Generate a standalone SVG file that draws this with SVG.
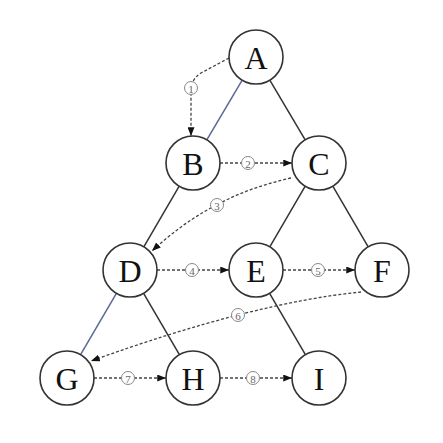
<svg xmlns="http://www.w3.org/2000/svg" width="443" height="443" viewBox="0 0 443 443">
<defs>
<marker id="ah" viewBox="0 0 10 8" refX="10" refY="4" markerWidth="9" markerHeight="7" markerUnits="userSpaceOnUse" orient="auto">
<path d="M0,0 L10,4 L0,8 Z" fill="#111"/>
</marker>
<style>
.node circle{fill:#fff;stroke:#333;stroke-width:1.6}
.node text{font-family:"Liberation Serif",serif;font-size:32px;fill:#111;text-anchor:middle;dominant-baseline:central}
.edge{stroke:#333;stroke-width:1.5;fill:none}
.blue{stroke:#5a6896}
.trav{stroke:#444;stroke-width:1.3;stroke-dasharray:3 2;fill:none;marker-end:url(#ah)}
.lbl circle{fill:#fff;stroke:#888;stroke-width:1}
.lbl text{font-family:"Liberation Serif",serif;font-size:11px;fill:#666;text-anchor:middle;dominant-baseline:central}
</style>
</defs>
<rect width="443" height="443" fill="#fff"/>
<g id="edges">
<line class="edge blue" x1="242.2" y1="80.2" x2="206.8" y2="139.8"/>
<line class="edge" x1="269.8" y1="80.2" x2="305.2" y2="139.8"/>
<line class="edge" x1="179.2" y1="186.2" x2="143.8" y2="246.8"/>
<line class="edge" x1="305.2" y1="186.2" x2="269.8" y2="246.8"/>
<line class="edge" x1="332.8" y1="186.2" x2="368.2" y2="246.8"/>
<line class="edge blue" x1="116.4" y1="293.3" x2="80.6" y2="354.7"/>
<line class="edge" x1="143.6" y1="293.3" x2="179.4" y2="354.7"/>
<line class="edge" x1="269.6" y1="293.3" x2="305.4" y2="354.7"/>
</g>
<g id="traversal">
<path class="trav" d="M229,58 L201,73 Q191,79 191,92 L191,136"/>
<line class="trav" x1="220" y1="163" x2="292" y2="163"/>
<path class="trav" d="M291,178 Q212,195 152,251"/>
<line class="trav" x1="157" y1="270" x2="229" y2="270"/>
<line class="trav" x1="283" y1="270" x2="355" y2="270"/>
<path class="trav" d="M361,292 Q252,303 91,361"/>
<line class="trav" x1="94" y1="378" x2="166" y2="378"/>
<line class="trav" x1="220" y1="378" x2="292" y2="378"/>
</g>
<g id="labels">
<g class="lbl"><circle cx="191" cy="88" r="6.5"/><text x="191" y="88.5">1</text></g>
<g class="lbl"><circle cx="248" cy="163" r="6.5"/><text x="248" y="163.5">2</text></g>
<g class="lbl"><circle cx="217" cy="205" r="6.5"/><text x="217" y="205.5">3</text></g>
<g class="lbl"><circle cx="192" cy="270" r="6.5"/><text x="192" y="270.5">4</text></g>
<g class="lbl"><circle cx="318" cy="270" r="6.5"/><text x="318" y="270.5">5</text></g>
<g class="lbl"><circle cx="238" cy="315" r="6.5"/><text x="238" y="315.5">6</text></g>
<g class="lbl"><circle cx="128" cy="378" r="6.5"/><text x="128" y="378.5">7</text></g>
<g class="lbl"><circle cx="253" cy="378" r="6.5"/><text x="253" y="378.5">8</text></g>
</g>
<g id="node-A" class="node"><circle cx="256" cy="57" r="27"/><text x="256" y="58">A</text></g>
<g id="node-B" class="node"><circle cx="193" cy="163" r="27"/><text x="193" y="164">B</text></g>
<g id="node-C" class="node"><circle cx="319" cy="163" r="27"/><text x="319" y="164">C</text></g>
<g id="node-D" class="node"><circle cx="130" cy="270" r="27"/><text x="130" y="271">D</text></g>
<g id="node-E" class="node"><circle cx="256" cy="270" r="27"/><text x="256" y="271">E</text></g>
<g id="node-F" class="node"><circle cx="382" cy="270" r="27"/><text x="382" y="271">F</text></g>
<g id="node-G" class="node"><circle cx="67" cy="378" r="27"/><text x="67" y="379">G</text></g>
<g id="node-H" class="node"><circle cx="193" cy="378" r="27"/><text x="193" y="379">H</text></g>
<g id="node-I" class="node"><circle cx="319" cy="378" r="27"/><text x="319" y="379">I</text></g>
</svg>
